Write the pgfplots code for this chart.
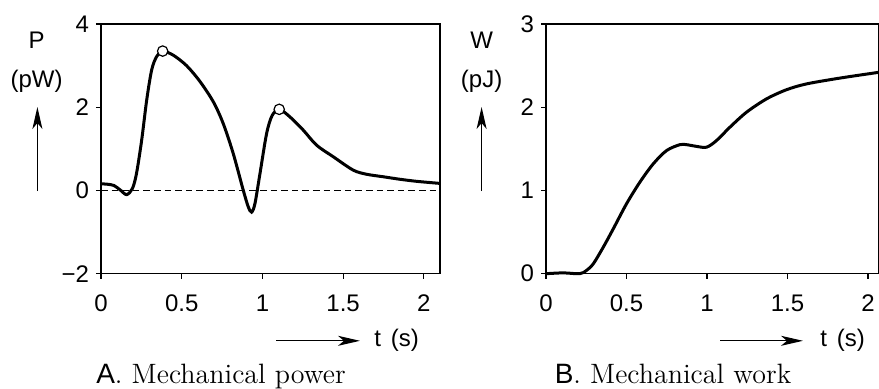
\documentclass[border=0pt]{standalone}
\usepackage{fontspec}
\setsansfont{Liberation Sans}
\usepackage{pgfplots}
\pgfplotsset{compat=1.18}
\usetikzlibrary{arrows.meta}

\pgfplotstableread{
t P
0.000 0.16
0.040 0.15
0.080 0.12
0.120 0.01
0.159 -0.10
0.195 0.05
0.220 0.41
0.252 1.21
0.283 2.17
0.314 2.90
0.345 3.22
0.382 3.35
0.448 3.25
0.530 3.00
0.613 2.62
0.696 2.13
0.757 1.61
0.819 0.89
0.881 0.01
0.912 -0.39
0.933 -0.52
0.954 -0.31
0.985 0.41
1.026 1.37
1.060 1.80
1.104 1.95
1.170 1.77
1.253 1.45
1.335 1.09
1.439 0.81
1.562 0.49
1.645 0.39
1.748 0.33
1.851 0.27
1.955 0.22
2.100 0.17
}\powertable

\pgfplotstableread{
t W
0.000 0.00
0.108 0.01
0.210 0.00
0.252 0.04
0.294 0.12
0.356 0.32
0.418 0.54
0.500 0.84
0.583 1.10
0.666 1.32
0.749 1.48
0.831 1.55
0.873 1.55
0.935 1.53
0.997 1.52
1.059 1.60
1.142 1.76
1.245 1.94
1.369 2.10
1.493 2.21
1.617 2.28
1.824 2.35
2.068 2.42
}\worktable

\begin{document}
\begin{tikzpicture}
\useasboundingbox (0,0) rectangle (439.5pt,194pt);
\pgfplotsset{
  myax/.style={
    scale only axis, anchor=south west, height=124.85pt,
    axis line style={line width=0.6pt},
    tick style={line width=0.6pt, black},
    tick align=outside, major tick length=2.5pt,
    tick pos=left,
    ticklabel style={font=\sffamily\fontsize{12}{14}\selectfont},
    xticklabel style={yshift=-4.5pt},
    /pgf/number format/assume math mode=true,
    xtick={0,0.5,1,1.5,2}, xticklabels={0,0.5,1,1.5,2},
    clip=false,
  }
}
\begin{axis}[myax, at={(50.5pt,57.15pt)}, width=169.5pt,
  xmin=0, xmax=2.1, ymin=-2, ymax=4,
  ytick={-2,0,2,4}, yticklabels={−2,0,2,4}]
\addplot[dash pattern=on 3.3pt off 2pt, line width=0.6pt] coordinates {(0,0) (2.1,0)};
\addplot[black, line width=1.5pt, smooth] table[x=t, y=P] {\powertable};
\addplot[only marks, mark=*, mark size=2.6pt, mark options={fill=white, draw=black, line width=0.6pt}] coordinates {(0.382,3.35) (1.104,1.95)};
\end{axis}
\begin{axis}[myax, at={(273pt,57.15pt)}, width=166.5pt,
  xmin=0, xmax=2.068, ymin=0, ymax=3,
  ytick={0,1,2,3}, yticklabels={0,1,2,3}]
\addplot[black, line width=1.5pt, smooth] table[x=t, y=W] {\worktable};
\end{axis}

\tikzset{lab/.style={font=\sffamily\fontsize{12}{14}\selectfont, inner sep=0pt},
  arr/.style={line width=0.6pt, -{Stealth[length=11pt, width=5pt, inset=3pt]}}}
% panel A labels
\node[lab] at (18.3pt,174pt) {P};
\node[lab] at (18.3pt,153.5pt) {(pW)};
\draw[arr] (18.7pt,98.5pt) -- (18.7pt,140.5pt);
\draw[arr] (138pt,23.6pt) -- (180pt,23.6pt);
\node[lab] at (198.3pt,24pt) {t\hspace{1.5pt} (s)};
\node[anchor=base, inner sep=0pt, font=\fontsize{14}{16}\selectfont] at (110.5pt,2.5pt) {{\sffamily A}. Mechanical power};
% panel B labels
\node[lab] at (240.8pt,174pt) {W};
\node[lab] at (240.8pt,153.5pt) {(pJ)};
\draw[arr] (240.8pt,98.5pt) -- (240.8pt,140.5pt);
\draw[arr] (360pt,23.6pt) -- (401.5pt,23.6pt);
\node[lab] at (421.3pt,24pt) {t\hspace{1.5pt} (s)};
\node[anchor=base, inner sep=0pt, font=\fontsize{14}{16}\selectfont] at (336.5pt,2.5pt) {{\sffamily B}. Mechanical work};
\end{tikzpicture}
\end{document}
